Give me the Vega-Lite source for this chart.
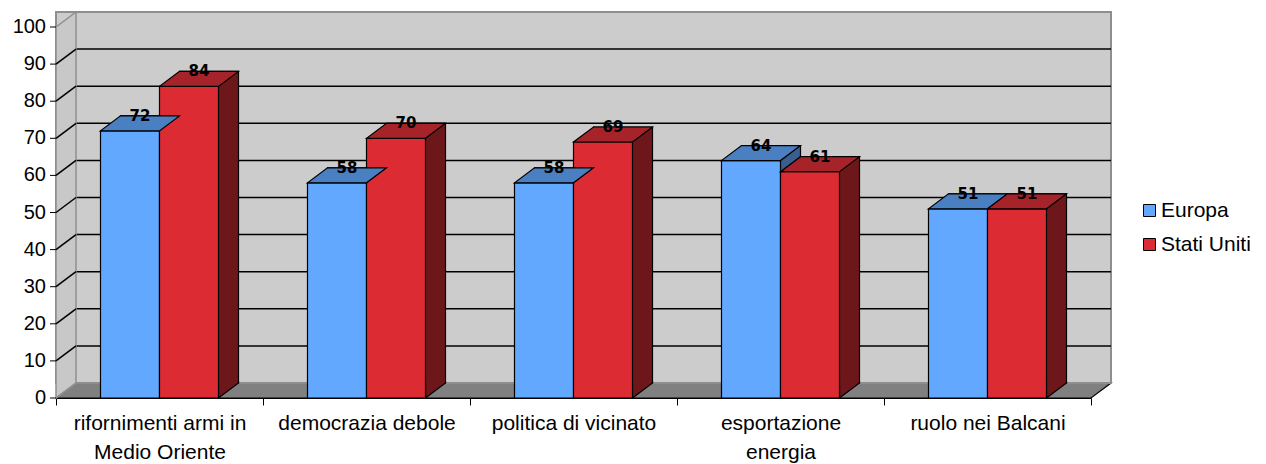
{
  "$schema": "https://vega.github.io/schema/vega-lite/v6.json",
  "width": 1035,
  "height": 371,
  "autosize": {"type": "none"},
  "padding": {"left": 56, "top": 27, "right": 175, "bottom": 66},
  "background": "white",
  "config": {
    "view": {"stroke": null},
    "axis": {
      "grid": false,
      "labelFont": "Liberation Sans",
      "labelFontSize": 21,
      "labelColor": "#000000",
      "domainColor": "#000000",
      "domainWidth": 1,
      "tickColor": "#000000",
      "tickWidth": 1,
      "zindex": 1
    },
    "axisX": {"tickSize": 7, "labelPadding": 7, "labelLineHeight": 29, "labelAngle": 0, "tickBand": "extent", "labelLimit": 0},
    "axisY": {"labels": false, "ticks": false}
  },
  "datasets": {
    "valori": [
      {"voce": "rifornimenti armi in Medio Oriente", "area": "Europa", "valore": 72},
      {"voce": "rifornimenti armi in Medio Oriente", "area": "Stati Uniti", "valore": 84},
      {"voce": "democrazia debole", "area": "Europa", "valore": 58},
      {"voce": "democrazia debole", "area": "Stati Uniti", "valore": 70},
      {"voce": "politica di vicinato", "area": "Europa", "valore": 58},
      {"voce": "politica di vicinato", "area": "Stati Uniti", "valore": 69},
      {"voce": "esportazione energia", "area": "Europa", "valore": 64},
      {"voce": "esportazione energia", "area": "Stati Uniti", "valore": 61},
      {"voce": "ruolo nei Balcani", "area": "Europa", "valore": 51},
      {"voce": "ruolo nei Balcani", "area": "Stati Uniti", "valore": 51}
    ],
    "livelli": [
      {"v": 0}, {"v": 10}, {"v": 20}, {"v": 30}, {"v": 40}, {"v": 50},
      {"v": 60}, {"v": 70}, {"v": 80}, {"v": 90}, {"v": 100}
    ]
  },
  "layer": [
    {
      "description": "floor of the 3D box",
      "data": {"values": [{"parte": "pavimento"}]},
      "mark": {"type": "point", "shape": "M0,0 L1035,0 L1055,-15 L20,-15", "size": 4, "filled": true, "fill": "#808080", "stroke": "#000000", "strokeWidth": 1.2, "opacity": 1},
      "encoding": {
        "x": {"datum": "rifornimenti armi in Medio Oriente", "type": "nominal", "bandPosition": 0,
              "scale": {"type": "band", "domain": ["rifornimenti armi in Medio Oriente", "democrazia debole", "politica di vicinato", "esportazione energia", "ruolo nei Balcani"], "paddingInner": 0, "paddingOuter": 0}},
        "y": {"datum": 0, "type": "quantitative", "scale": {"domain": [0, 100], "nice": false}}
      }
    },
    {
      "description": "back wall",
      "data": {"values": [{"parte": "parete di fondo"}]},
      "mark": {"type": "rect", "fill": "#CCCCCC", "stroke": "#8E8E8E", "strokeWidth": 2, "xOffset": 20, "x2Offset": 20, "yOffset": -15, "y2Offset": -15},
      "encoding": {
        "y": {"datum": 0, "type": "quantitative"},
        "y2": {"datum": 100}
      }
    },
    {
      "description": "gridlines on the back wall",
      "data": {"name": "livelli"},
      "transform": [{"filter": "datum.v > 0 && datum.v < 100"}],
      "mark": {"type": "rule", "stroke": "#000000", "strokeWidth": 1.5, "xOffset": 20, "x2Offset": 20, "yOffset": -15},
      "encoding": {
        "y": {"field": "v", "type": "quantitative"}
      }
    },
    {
      "description": "receding face of the Europa bars",
      "data": {"name": "valori"},
      "transform": [{"filter": "datum.area == 'Europa'"}],
      "mark": {"type": "bar", "width": 59, "xOffset": -9.5, "yOffset": -15, "y2Offset": -15, "fill": "#3A5E8E", "stroke": "#000000", "strokeWidth": 1.2},
      "encoding": {
        "x": {"field": "voce", "type": "nominal"},
        "y": {"field": "valore", "type": "quantitative"}
      }
    },
    {
      "description": "receding face of the Stati Uniti bars",
      "data": {"name": "valori"},
      "transform": [{"filter": "datum.area == 'Stati Uniti'"}],
      "mark": {"type": "bar", "width": 59, "xOffset": 49.5, "yOffset": -15, "y2Offset": -15, "fill": "#6E171B", "stroke": "#000000", "strokeWidth": 1.2},
      "encoding": {
        "x": {"field": "voce", "type": "nominal"},
        "y": {"field": "valore", "type": "quantitative"}
      }
    },
    {
      "description": "bottom corner of the right side face",
      "data": {"name": "valori"},
      "transform": [{"filter": "datum.area == 'Stati Uniti'"}],
      "mark": {"type": "point", "shape": "M29.5,-17 L29.5,0 L49.5,-15 L49.5,-17", "size": 4, "filled": true, "fill": "#6E171B", "stroke": "#000000", "strokeWidth": 1.2, "opacity": 1},
      "encoding": {
        "x": {"field": "voce", "type": "nominal"},
        "xOffset": {"field": "area", "type": "nominal", "scale": {"domain": ["Europa", "Stati Uniti"], "paddingInner": 0, "paddingOuter": 0.7542}},
        "y": {"datum": 0, "type": "quantitative"}
      }
    },
    {
      "description": "front faces of the bars",
      "data": {"name": "valori"},
      "mark": {"type": "bar", "stroke": "#000000", "strokeWidth": 1.2},
      "encoding": {
        "x": {"field": "voce", "type": "nominal", "title": null,
              "axis": {"labelExpr": "datum.value == 'rifornimenti armi in Medio Oriente' ? ['rifornimenti armi in', 'Medio Oriente'] : datum.value == 'esportazione energia' ? ['esportazione', 'energia'] : datum.label"}},
        "xOffset": {"field": "area", "type": "nominal"},
        "y": {"field": "valore", "type": "quantitative", "title": null},
        "color": {"field": "area", "type": "nominal",
                  "scale": {"domain": ["Europa", "Stati Uniti"], "range": ["#62A8FF", "#DC2B33"]},
                  "legend": {"title": null, "orient": "none", "legendX": 1083, "legendY": 173, "padding": 0,
                             "symbolType": "square", "symbolSize": 144, "symbolStrokeColor": "#000000", "symbolStrokeWidth": 1,
                             "labelFont": "Liberation Sans", "labelFontSize": 21, "labelColor": "#000000", "labelOffset": 1, "rowPadding": 12}}
      }
    },
    {
      "description": "top faces of the bars",
      "data": {"name": "valori"},
      "mark": {"type": "point", "shape": "M-29.5,0 L29.5,0 L49.5,-15 L-9.5,-15 Z", "size": 4, "filled": true, "stroke": "#000000", "strokeWidth": 1.2, "opacity": 1},
      "encoding": {
        "x": {"field": "voce", "type": "nominal"},
        "xOffset": {"field": "area", "type": "nominal"},
        "y": {"field": "valore", "type": "quantitative"},
        "fill": {"condition": {"test": "datum.area == 'Europa'", "value": "#4A7FC2"}, "value": "#A7232A"}
      }
    },
    {
      "description": "value labels",
      "data": {"name": "valori"},
      "mark": {"type": "text", "font": "DejaVu Sans", "fontWeight": "bold", "fontSize": 15, "dx": 10, "dy": -15, "baseline": "middle", "align": "center", "color": "#000000"},
      "encoding": {
        "x": {"field": "voce", "type": "nominal"},
        "xOffset": {"field": "area", "type": "nominal"},
        "y": {"field": "valore", "type": "quantitative"},
        "text": {"field": "valore", "type": "quantitative"}
      }
    },
    {
      "description": "left side wall, hung from the top level; its back edge is outlined",
      "data": {"name": "livelli"},
      "transform": [{"filter": "datum.v == 100"}],
      "mark": {"type": "point", "shape": "M20,-15 L20,356 L0,371 L0,0", "size": 4, "filled": true, "fill": "#C8C8C8", "stroke": "#8E8E8E", "strokeWidth": 1.5, "opacity": 1},
      "encoding": {
        "x": {"datum": "rifornimenti armi in Medio Oriente", "type": "nominal", "bandPosition": 0},
        "y": {"field": "v", "type": "quantitative"}
      }
    },
    {
      "description": "gridlines on the left wall",
      "data": {"name": "livelli"},
      "mark": {"type": "point", "shape": "M0,0 L20,-15", "size": 4, "filled": false, "strokeWidth": 1.5, "opacity": 1},
      "encoding": {
        "x": {"datum": "rifornimenti armi in Medio Oriente", "type": "nominal", "bandPosition": 0},
        "y": {"field": "v", "type": "quantitative"},
        "stroke": {"condition": {"test": "datum.v == 0 || datum.v == 100", "value": "#8E8E8E"}, "value": "#000000"}
      }
    },
    {
      "description": "value axis tick marks",
      "data": {"name": "livelli"},
      "mark": {"type": "point", "shape": "M-6,0 L0,0", "size": 4, "filled": false, "stroke": "#000000", "strokeWidth": 1, "opacity": 1},
      "encoding": {
        "x": {"datum": "rifornimenti armi in Medio Oriente", "type": "nominal", "bandPosition": 0},
        "y": {"field": "v", "type": "quantitative"}
      }
    },
    {
      "description": "value axis labels",
      "data": {"name": "livelli"},
      "mark": {"type": "text", "font": "Liberation Sans", "fontSize": 20, "align": "right", "baseline": "middle", "dx": -10, "color": "#000000"},
      "encoding": {
        "x": {"datum": "rifornimenti armi in Medio Oriente", "type": "nominal", "bandPosition": 0},
        "y": {"field": "v", "type": "quantitative"},
        "text": {"field": "v", "type": "quantitative"}
      }
    }
  ]
}
